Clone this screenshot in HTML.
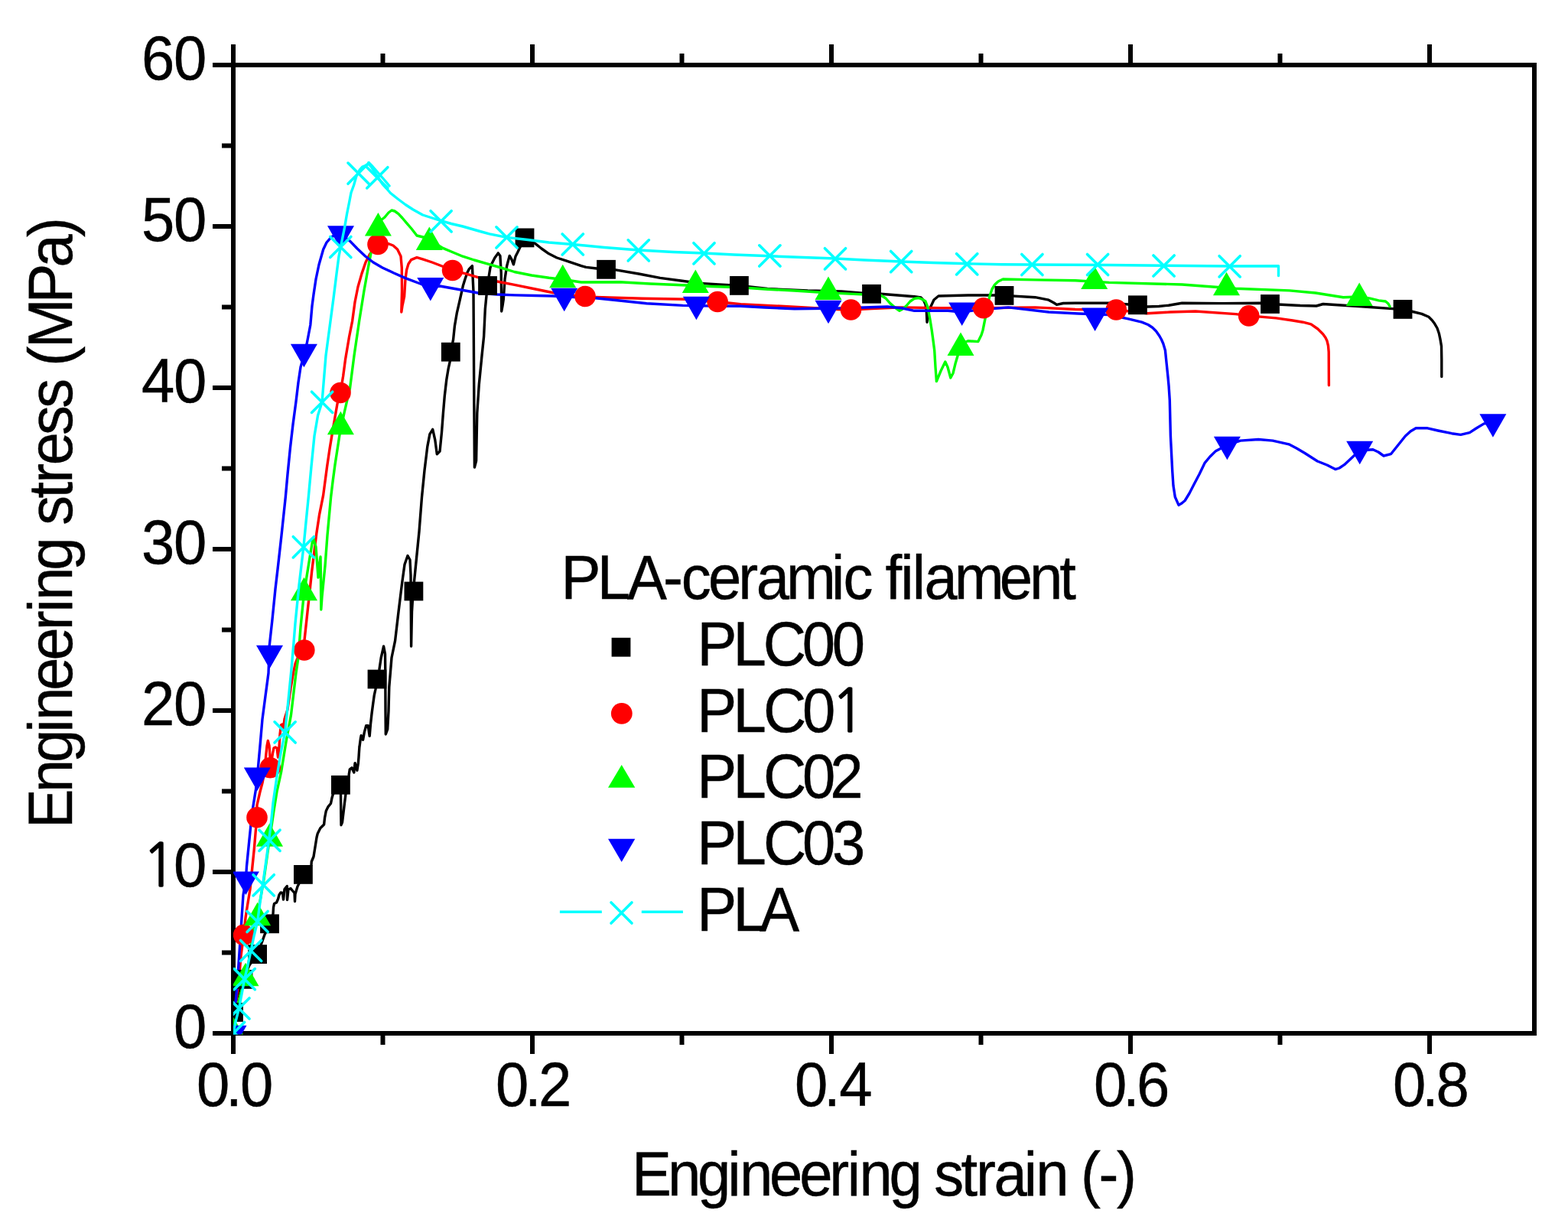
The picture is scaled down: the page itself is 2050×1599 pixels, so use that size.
<!DOCTYPE html><html><head><meta charset="utf-8"><title>Engineering stress-strain</title><style>
html,body{margin:0;padding:0;background:#fff;width:2050px;height:1599px;overflow:hidden}
svg{display:block}
text{font-family:"Liberation Sans",Arial,sans-serif;font-size:82px;fill:#000;stroke:#000;stroke-width:0.45px;font-kerning:none;font-variant-ligatures:none}
</style></head><body>
<svg width="2050" height="1599" viewBox="0 0 2050 1599">
<rect x="0" y="0" width="2050" height="1599" fill="#fff"/>
<g stroke="#000" stroke-width="6" fill="none" stroke-linecap="butt">
<rect x="305" y="85" width="1701" height="1266"/>
<path d="M278 85H302M278 296H302M278 507H302M278 718H302M278 929H302M278 1140H302M278 1351H302M290 190.5H302M290 401.5H302M290 612.5H302M290 823.5H302M290 1034.5H302M290 1245.5H302M305 1354V1378M305 82V58M696 1354V1378M696 82V58M1087 1354V1378M1087 82V58M1478 1354V1378M1478 82V58M1869 1354V1378M1869 82V58M500.5 1354V1366M500.5 82V70M891.5 1354V1366M891.5 82V70M1282.5 1354V1366M1282.5 82V70M1673.5 1354V1366M1673.5 82V70"/>
</g>
<defs><clipPath id="pc"><rect x="305" y="85" width="1701" height="1267.5"/></clipPath></defs>
<g clip-path="url(#pc)" fill="none" stroke-linejoin="round" stroke-linecap="round">
<polyline points="305,1351 306,1338 305.5,1323 309,1308 312,1297 318,1280 326,1262 336.6,1247.6 341,1236 346,1222 352.5,1207.8 357,1195 357.5,1186.5 358.5,1181.5 361.5,1180 363.5,1175.5 365,1170 367,1167 369.5,1167.5 370.5,1176 372,1162.5 375.3,1158.5 375.5,1176.5 377,1163 380,1161.5 382,1164 385,1167.5 385.5,1178.5 386,1169 389,1159 390.5,1156 396.4,1143.4 404,1137 407,1131 407.3,1126.5 410,1120 414,1095 415.3,1089.7 418.8,1082.8 423.6,1078 424.6,1069 426.3,1060.2 429.1,1054.6 432.5,1050.5 433.9,1043.6 435.3,1038.8 440,1030 445.4,1026.3 445.5,1040 446,1078.7 447.5,1075 450.5,1050 452,1038 454,1025 456,1014 457.3,1005.8 460,1003.8 462.8,1010 464.1,997.6 466.9,1007.2 468.3,998.3 469,990 470,975 469.8,977.9 471.4,965.7 472.2,961.6 474.6,967.3 476.3,957.6 478.7,948.6 481.1,948.6 483.2,962.4 484.4,947.8 486,933.2 487.6,921 489.3,908.8 490.9,901.5 493.2,888.4 495.8,876.1 498.2,860 501.6,845 503.5,855 503.8,880 504,930 504.3,960 506.7,953.5 508,930 508.8,898 510.5,878 512,860 516.6,837.6 521,800 525.6,762.6 529,738 533,726.5 536,732 537,752 537.6,845 538.5,800 540,775 542,755 548,695 551.5,650 552.5,640 555,615 558.8,583.9 561.9,567.6 565.7,561.4 568.8,575.1 571.3,593.9 575,590.1 577.5,565.1 579.4,540.1 581.3,517.6 583.8,496.3 586.3,481.3 588.2,472.8 589.3,460.2 592.6,443.8 594.4,426.3 597.4,408.8 601.4,391.3 605.3,373.8 608,365 611,356.3 613.2,351.9 617.4,347.6 619,381.3 619.7,505 620.4,611 622.6,602.6 623.8,540 626.3,502.5 630,465 632.6,440 634.3,404 637.3,373 641,349.8 642.5,345.8 646.9,337 651.3,330.9 653.9,334.4 655.2,356.3 655.7,407 657,400 658.3,391.3 660,365 662.7,347.5 666.2,334.4 668.8,338.8 671.4,345.8 674,335.3 676.7,330 686,310.4 699.6,318.3 708,325 717.7,331.8 728,337 740,340.8 760,347.6 766.3,349.4 780,351 792.5,352.3 805,352.9 835,358 863,363.4 890,367 915.6,370.4 940,372 966.4,373.4 1003.4,377.5 1056,380 1100,381 1139.5,384.3 1151.5,384.3 1195.4,387.8 1204,389 1207.7,393 1210,398 1211.2,405.4 1212,421.2 1213.5,410 1216.4,401.9 1221,392 1227,387 1265.6,386 1300.7,386 1313,386.4 1353.4,388.7 1371,392.2 1378,396 1381.5,398.3 1390,396.5 1406,396.2 1450,396.2 1487,398.8 1499.7,401 1515,400.5 1527.8,399.2 1545.4,396.2 1598,396.6 1648,396.2 1660.5,397.5 1700,399.5 1721,400 1729.8,397.5 1780,400.8 1820.5,403.6 1834,404.4 1847,407.5 1858.8,410.4 1867.8,414.3 1872.3,418.8 1875.7,423.3 1879,429 1881.3,435.7 1883,443.6 1884.5,452.6 1884.8,470 1884.8,492.5" stroke="#000" stroke-width="3.4"/>
<polyline points="305,1351 306.5,1330 309,1305 312,1285 315,1250 318.6,1222.4 321,1200 323.3,1185 327,1162.5 330,1132.5 332.3,1110 334.5,1083.8 336,1068.8 336,1052.6 340,1035 343,1023.8 346,1008 347.5,990 349,975 350.3,968.5 352,975 353,990 355,995 356.5,985 358,978 360,977 362,978 363.5,990 364.5,985 366,960 367.5,948 369,947 370.5,952 372,940 376,927.5 380,900 383.4,880 386,868 390,858 397.8,850 398,837 402,800 405.6,767 407.6,747.7 410.7,722.6 413.8,697.6 417.6,672.6 422.6,647.6 427.6,610 431,587 435,562.6 441,528 445,513.5 448.6,492 451.6,469.5 456.6,440 460.6,420 464,395 468,375 473,357.6 478,343 483.6,332 494,320 507.6,318.6 514,321 519.6,326 524,335 525.3,350 525.5,380 524.8,408 526,400 528.6,387.6 530,365 531.6,353 534,345 537.6,339.6 545,336.6 552.6,338.8 565,343 578,348 591.6,353.5 608,357.6 627.6,363.3 650,368 672.6,372.3 700,378 722,382.5 760,388 778.6,388.5 840,390.3 898,391.2 938.1,394.5 968.3,397.7 1038.6,401.2 1100,404.7 1112.5,405 1140,403.5 1177.8,401.9 1230.5,402.7 1285.8,402.7 1353.4,401.9 1406,404.5 1450,405.4 1459.3,405 1499.7,409.8 1530,408 1563,407 1615.6,410.6 1632.7,412.9 1668.3,415.9 1690,419 1703.4,421.2 1714,423.8 1722.8,430 1729.8,437 1733,441.5 1735,445.8 1736.5,452 1737.2,460 1737.4,503.7" stroke="#f00" stroke-width="3.4"/>
<polyline points="305,1351 307,1335 310,1318 315,1298 321,1279 325,1258 328,1240 331.5,1210 336.6,1195 340.5,1175 344.8,1151 347.5,1132 350,1114 352.5,1097 358,1060 362,1035 367.6,1009.4 374,970 380.5,934.6 387,880 390,860 393,820 396.5,785 400,760 404,735 408.6,707 410,705 413,715 416,755 418,735 419,728 419.5,760 419.8,797 421,780 425,740 428,700 432.6,650 435,630 438,607.6 444,568.6 450,540 457.6,507 463,465 469.6,420 476,380 481,352 485,330.6 490,310 494.4,293 498,288 503,284 508,278 512,275 516,276 521,279.6 526,285 531.6,291.6 538,299 545,308 561,312 570,319 579.6,324.6 590,329 605,335.2 620,340 638.8,345.3 655,350 672.6,355.5 695,360 717.7,363.3 740,366 760,369 810,368.7 850,371 898,373 930,374.5 968.3,375.7 1000,378 1038.6,380 1070,382 1100,383.6 1151.5,386 1158,390 1163.8,396.6 1170,402 1176,406.3 1180,404 1184.8,400 1190,394 1195.4,390.4 1201,389.5 1206,391.3 1210,394 1213,401.9 1216,418 1218.2,431.7 1220,445 1221.7,458 1223,480 1224.4,498.5 1230,485 1235.8,473 1239,480 1242.8,494 1246,488 1249,475.6 1254.2,458 1256,449.7 1265.6,445.8 1278.8,446.6 1283,438 1285,431.7 1288.5,414.2 1291,400 1293.7,387.8 1297,378 1300.7,372 1305,368 1311.3,365 1353.4,365.9 1406,366.7 1450,369.4 1545.4,372 1615.6,377.3 1685.9,379.9 1720,383 1756.1,388.7 1777,388 1791.3,390.1 1802.5,392.9 1811.5,394 1815,397 1817.1,400.8" stroke="#0f0" stroke-width="3.4"/>
<polyline points="305,1351 306,1335 307,1320 310,1290 312,1260 314,1230 316,1200 318,1170 321.4,1150 322.5,1132.5 325.5,1102.5 327.8,1080 330,1060 334.5,1032 337.4,1003.7 340,975 343,940.4 347,910 351,880 352.3,843.6 356,810 360,770 363.5,740 368,700 373.3,650 376,620 379.5,585 383,555 387,525 390,500 393,480 397,466 401,450 403.5,437 405.8,425 408,400 410,385 413,365 417,346 422.7,326 427,317 432.8,310.3 440,306 445,308 452,311 458,315.6 467,325 477.6,335 488,343 500,350 515,357 530,363.6 549.6,371 562.8,376 575,374 600,378.5 625,383 650,385 672.6,385.9 700,386.5 722,387 740,388 778.6,389.8 810,393 845.4,396.8 892.8,399.4 930,400 968.3,400.3 1000,402 1038.6,403.8 1100,403 1160,401 1180,403 1195.4,406.3 1239.3,406.3 1257.7,408 1280,405 1318.3,401.9 1371,408 1410,410 1450,411.5 1475,416.8 1492.7,421.2 1501,424.5 1506.7,428.2 1511.5,433 1515.5,438.7 1518.5,444 1520.8,449.3 1523.4,458 1525.2,475.6 1527,493 1528.1,505 1529.3,523.4 1530.4,570.2 1532.8,617 1534,635 1536.3,649.8 1541,660.4 1545,658 1549.2,654.5 1555,645 1560.9,633.5 1568,620 1575,605.4 1582,597 1589,590.1 1604.2,582 1621.7,576.1 1645.2,574.5 1663.9,576.1 1685,580.8 1695,586 1706,592.5 1722.4,603 1735,608 1745.8,613.6 1751,612 1757.5,607.7 1777.5,589 1795,587.8 1802,591 1809,596 1818.4,593.7 1827,583 1837.2,570.2 1844,564 1851.2,559.7 1865.3,559.7 1880,563 1898,566.7 1909.7,568.4 1921.4,565.6 1930,560 1940.2,553.9 1951.9,552.7" stroke="#00f" stroke-width="3.4"/>
</g>
<g clip-path="url(#pc)">
<rect x="293.1" y="1311.1" width="24.8" height="24.8" fill="#000"/>
<rect x="305.6" y="1268" width="24.8" height="24.8" fill="#000"/>
<rect x="324.2" y="1235.2" width="24.8" height="24.8" fill="#000"/>
<rect x="340.1" y="1195.4" width="24.8" height="24.8" fill="#000"/>
<rect x="384" y="1131" width="24.8" height="24.8" fill="#000"/>
<rect x="433" y="1013.9" width="24.8" height="24.8" fill="#000"/>
<rect x="480.6" y="875.6" width="24.8" height="24.8" fill="#000"/>
<rect x="528.5" y="760.6" width="24.8" height="24.8" fill="#000"/>
<rect x="576.9" y="447.8" width="24.8" height="24.8" fill="#000"/>
<rect x="625.1" y="361.1" width="24.8" height="24.8" fill="#000"/>
<rect x="673.6" y="298.5" width="24.8" height="24.8" fill="#000"/>
<rect x="780.1" y="339.9" width="24.8" height="24.8" fill="#000"/>
<rect x="954" y="361" width="24.8" height="24.8" fill="#000"/>
<rect x="1127.1" y="371.9" width="24.8" height="24.8" fill="#000"/>
<rect x="1300.6" y="374" width="24.8" height="24.8" fill="#000"/>
<rect x="1475" y="386.4" width="24.8" height="24.8" fill="#000"/>
<rect x="1648.1" y="385.1" width="24.8" height="24.8" fill="#000"/>
<rect x="1821.6" y="392" width="24.8" height="24.8" fill="#000"/>
<circle cx="318.6" cy="1222.4" r="13.8" fill="#f00"/>
<circle cx="336" cy="1068.8" r="13.8" fill="#f00"/>
<circle cx="353.2" cy="1003.7" r="13.8" fill="#f00"/>
<circle cx="397.8" cy="850" r="13.8" fill="#f00"/>
<circle cx="445" cy="513.5" r="13.8" fill="#f00"/>
<circle cx="494" cy="319.5" r="13.8" fill="#f00"/>
<circle cx="591.6" cy="353.5" r="13.8" fill="#f00"/>
<circle cx="765" cy="387.5" r="13.8" fill="#f00"/>
<circle cx="938.1" cy="394.5" r="13.8" fill="#f00"/>
<circle cx="1112.5" cy="405" r="13.8" fill="#f00"/>
<circle cx="1285.8" cy="402.7" r="13.8" fill="#f00"/>
<circle cx="1459.3" cy="405" r="13.8" fill="#f00"/>
<circle cx="1632.7" cy="412.9" r="13.8" fill="#f00"/>
<polygon points="305,1329.8 322.5,1360.2 287.5,1360.2" fill="#0f0"/>
<polygon points="321,1258.8 338.5,1289.2 303.5,1289.2" fill="#0f0"/>
<polygon points="336.6,1179.8 354.1,1210.2 319.1,1210.2" fill="#0f0"/>
<polygon points="352.5,1076.2 370,1106.8 335,1106.8" fill="#0f0"/>
<polygon points="397.5,754.8 415,785.2 380,785.2" fill="#0f0"/>
<polygon points="445.4,537.8 462.9,568.2 427.9,568.2" fill="#0f0"/>
<polygon points="494.4,278.1 511.9,308.6 476.9,308.6" fill="#0f0"/>
<polygon points="561.3,296.6 578.8,327.1 543.8,327.1" fill="#0f0"/>
<polygon points="735.7,345.8 753.2,376.2 718.2,376.2" fill="#0f0"/>
<polygon points="909.3,352.6 926.8,383.1 891.8,383.1" fill="#0f0"/>
<polygon points="1083,361.4 1100.5,391.9 1065.5,391.9" fill="#0f0"/>
<polygon points="1256,434.4 1273.5,464.9 1238.5,464.9" fill="#0f0"/>
<polygon points="1430.7,347.4 1448.2,377.9 1413.2,377.9" fill="#0f0"/>
<polygon points="1603.5,355.8 1621,386.2 1586,386.2" fill="#0f0"/>
<polygon points="1777.2,369.6 1794.7,400.1 1759.7,400.1" fill="#0f0"/>
<polygon points="287.5,1340.8 322.5,1340.8 305,1371.2" fill="#00f"/>
<polygon points="303.9,1139.5 338.9,1139.5 321.4,1170" fill="#00f"/>
<polygon points="318.8,1003.5 353.8,1003.5 336.3,1034" fill="#00f"/>
<polygon points="335,843.8 370,843.8 352.5,874.2" fill="#00f"/>
<polygon points="379.9,449.8 414.9,449.8 397.4,480.2" fill="#00f"/>
<polygon points="428,295.2 463,295.2 445.5,325.8" fill="#00f"/>
<polygon points="545.3,363.1 580.3,363.1 562.8,393.6" fill="#00f"/>
<polygon points="720.2,376.8 755.2,376.8 737.7,407.2" fill="#00f"/>
<polygon points="892.9,387.8 927.9,387.8 910.4,418.2" fill="#00f"/>
<polygon points="1065.5,392.8 1100.5,392.8 1083,423.2" fill="#00f"/>
<polygon points="1240.2,395.4 1275.2,395.4 1257.7,425.9" fill="#00f"/>
<polygon points="1414.1,402.4 1449.1,402.4 1431.6,432.9" fill="#00f"/>
<polygon points="1586.9,570.8 1621.9,570.8 1604.4,601.2" fill="#00f"/>
<polygon points="1760.2,576.8 1795.2,576.8 1777.7,607.2" fill="#00f"/>
<polygon points="1934.4,541.2 1969.4,541.2 1951.9,571.8" fill="#00f"/>
</g>
<g clip-path="url(#pc)" fill="none" stroke-linejoin="round" stroke-linecap="round">
<polyline points="305,1351 308,1336 312.4,1318.5 316,1300 319.7,1280.2 324,1262 328.1,1243 332,1224 336.6,1205 340,1180 344.3,1151.3 347,1132 349.5,1113.8 352,1095 354,1080 357,1050 361.8,1016.6 367,985 372.6,957.4 376,925 380.5,880 384,840 386,815 391,765 396.9,715 400,683 403.3,650 407,610 411,570 415.6,543 421,526 426,465 432,420 436,390 440,358 443,335 447,315 450.5,297.6 453.5,280 456.6,264.5 459,252 462.6,242 466,230 470,222.5 474,218 477.6,216.5 482,214.3 486,219 491,227 495,233 500,240.5 505,246 510.6,252.5 520,260 530,267.5 540,274 552.6,281 565,285 576.6,288.6 590,292.5 605,296 627.6,302.5 640,305.8 662.5,310.4 690,313.5 717.6,317 748.8,319.5 790,323.5 834.8,327 880,329.5 920.5,331 960,333 1006.4,334.8 1050,336.5 1092,338 1130,340 1178.2,342 1220,343.5 1265.6,344.8 1310,345.7 1349.4,346 1400,346.3 1450,346.5 1521.7,347.3 1607.7,348 1671.5,347.8 1671.5,360.6" stroke="#0ff" stroke-width="3.4"/>
<polyline points="482,212.5 487,217.5 494,225.5 501,233.5 509,243" stroke="#0ff" stroke-width="3.4"/>
<path d="M292.4 1336.4L319.6 1363.6M292.4 1363.6L319.6 1336.4" stroke="#0ff" stroke-width="3.6" stroke-linecap="round" fill="none"/>
<path d="M298.8 1304.9L326 1332.1M298.8 1332.1L326 1304.9" stroke="#0ff" stroke-width="3.6" stroke-linecap="round" fill="none"/>
<path d="M306.1 1266.6L333.3 1293.8M306.1 1293.8L333.3 1266.6" stroke="#0ff" stroke-width="3.6" stroke-linecap="round" fill="none"/>
<path d="M314.5 1229.4L341.7 1256.6M314.5 1256.6L341.7 1229.4" stroke="#0ff" stroke-width="3.6" stroke-linecap="round" fill="none"/>
<path d="M323 1191.4L350.2 1218.6M323 1218.6L350.2 1191.4" stroke="#0ff" stroke-width="3.6" stroke-linecap="round" fill="none"/>
<path d="M331.1 1143.7L358.3 1170.9M331.1 1170.9L358.3 1143.7" stroke="#0ff" stroke-width="3.6" stroke-linecap="round" fill="none"/>
<path d="M338.9 1085.2L366.1 1112.4M338.9 1112.4L366.1 1085.2" stroke="#0ff" stroke-width="3.6" stroke-linecap="round" fill="none"/>
<path d="M359 943.8L386.2 971M359 971L386.2 943.8" stroke="#0ff" stroke-width="3.6" stroke-linecap="round" fill="none"/>
<path d="M383.3 701.7L410.5 728.9M383.3 728.9L410.5 701.7" stroke="#0ff" stroke-width="3.6" stroke-linecap="round" fill="none"/>
<path d="M407.5 512.2L434.7 539.4M407.5 539.4L434.7 512.2" stroke="#0ff" stroke-width="3.6" stroke-linecap="round" fill="none"/>
<path d="M431.7 309.4L458.9 336.6M431.7 336.6L458.9 309.4" stroke="#0ff" stroke-width="3.6" stroke-linecap="round" fill="none"/>
<path d="M455 213.1L482.2 240.3M455 240.3L482.2 213.1" stroke="#0ff" stroke-width="3.6" stroke-linecap="round" fill="none"/>
<path d="M479.7 218.7L506.9 245.9M479.7 245.9L506.9 218.7" stroke="#0ff" stroke-width="3.6" stroke-linecap="round" fill="none"/>
<path d="M563 275.7L590.2 302.9M563 302.9L590.2 275.7" stroke="#0ff" stroke-width="3.6" stroke-linecap="round" fill="none"/>
<path d="M648.9 296.8L676.1 324M648.9 324L676.1 296.8" stroke="#0ff" stroke-width="3.6" stroke-linecap="round" fill="none"/>
<path d="M735.2 305.9L762.4 333.1M735.2 333.1L762.4 305.9" stroke="#0ff" stroke-width="3.6" stroke-linecap="round" fill="none"/>
<path d="M821.2 313.8L848.4 341M821.2 341L848.4 313.8" stroke="#0ff" stroke-width="3.6" stroke-linecap="round" fill="none"/>
<path d="M906.9 317.7L934.1 344.9M906.9 344.9L934.1 317.7" stroke="#0ff" stroke-width="3.6" stroke-linecap="round" fill="none"/>
<path d="M992.8 320.8L1020 348M992.8 348L1020 320.8" stroke="#0ff" stroke-width="3.6" stroke-linecap="round" fill="none"/>
<path d="M1078.4 324.7L1105.6 351.9M1078.4 351.9L1105.6 324.7" stroke="#0ff" stroke-width="3.6" stroke-linecap="round" fill="none"/>
<path d="M1164.6 328.5L1191.8 355.7M1164.6 355.7L1191.8 328.5" stroke="#0ff" stroke-width="3.6" stroke-linecap="round" fill="none"/>
<path d="M1250.6 331.7L1277.8 358.9M1250.6 358.9L1277.8 331.7" stroke="#0ff" stroke-width="3.6" stroke-linecap="round" fill="none"/>
<path d="M1335.8 332.4L1363 359.6M1335.8 359.6L1363 332.4" stroke="#0ff" stroke-width="3.6" stroke-linecap="round" fill="none"/>
<path d="M1421.5 332.4L1448.7 359.6M1421.5 359.6L1448.7 332.4" stroke="#0ff" stroke-width="3.6" stroke-linecap="round" fill="none"/>
<path d="M1508 333.9L1535.2 361.1M1508 361.1L1535.2 333.9" stroke="#0ff" stroke-width="3.6" stroke-linecap="round" fill="none"/>
<path d="M1594.1 334.7L1621.3 361.9M1594.1 361.9L1621.3 334.7" stroke="#0ff" stroke-width="3.6" stroke-linecap="round" fill="none"/>
</g>
<text transform="scale(0.95,1)" x="194.73 238.9" y="104.1">60</text>
<text transform="scale(0.95,1)" x="194.73 238.9" y="315.1">50</text>
<text transform="scale(0.95,1)" x="194.73 238.9" y="526.1">40</text>
<text transform="scale(0.95,1)" x="194.73 238.9" y="737.1">30</text>
<text transform="scale(0.95,1)" x="194.73 238.9" y="948.1">20</text>
<text transform="scale(0.95,1)" x="195.66 238.9" y="1159.1"><tspan style="font-family:NanumGothic,sans-serif;font-size:78px;stroke-width:1.3px">1</tspan>0</text>
<text transform="scale(0.95,1)" x="238.9" y="1370.1">0</text>
<text transform="scale(0.95,1)" x="270.53 310.46 330.43" y="1446">0.0</text>
<text transform="scale(0.95,1)" x="682.11 722.04 741.09" y="1446">0.2</text>
<text transform="scale(0.95,1)" x="1093.69 1133.62 1154.91" y="1446">0.4</text>
<text transform="scale(0.95,1)" x="1505.27 1545.2 1564.2" y="1446">0.6</text>
<text transform="scale(0.95,1)" x="1916.85 1956.78 1976.38" y="1446">0.8</text>
<text transform="scale(0.95,1)" x="869.48 918.91 960.12 1001.33 1017.8 1059.01 1100.22 1141.43 1166.11 1182.57 1223.78 1265 1285.58 1322.63 1343.22 1367.9 1409.11 1425.57 1466.78 1487.37 1512.05 1536.73" y="1563">Engineering strain (-)</text>
<text transform="rotate(-90) scale(0.95,1)" x="-1140.31 -1090.73 -1049.39 -1008.05 -991.53 -950.19 -908.85 -867.51 -842.76 -826.25 -784.91 -743.57 -722.92 -685.75 -665.1 -640.35 -599.01 -561.84 -524.67 -504.02 -479.27 -417.35 -367.77 -326.43" y="94">Engineering stress (MPa)</text>
<text transform="scale(0.95,1)" x="772.22 821.81 863.17 912.76 937.52 974.69 1016.05 1040.81 1082.16 1144.09 1160.61 1197.79 1218.45 1239.11 1255.62 1272.14 1313.49 1375.43 1416.78 1458.13" y="782.6">PLA-ceramic filament</text>
<text transform="scale(0.95,1)" x="959.59 1009.06 1050.36 1104.06 1145.01" y="869.8">PLC00</text>
<text transform="scale(0.95,1)" x="959.17 1008.96 1050.57 1104.17 1143.66" y="956.6">PLC0<tspan style="font-family:NanumGothic,sans-serif;font-size:78px;stroke-width:1.3px">1</tspan></text>
<text transform="scale(0.95,1)" x="959.17 1008.96 1050.57 1104.17 1142.3" y="1043.4">PLC02</text>
<text transform="scale(0.95,1)" x="959.17 1008.96 1050.57 1104.17 1145.19" y="1130.2">PLC03</text>
<text transform="scale(0.95,1)" x="959.17 1008.96 1045.63" y="1217">PLA</text>
<rect x="799.6" y="833.8" width="24.8" height="24.8" fill="#000"/>
<circle cx="812.8" cy="932.8" r="13.9" fill="#f00"/>
<polygon points="812.7,1000 830.3,1029.8 795,1029.8" fill="#0f0"/>
<polygon points="795,1096.7 830.3,1096.7 812.7,1127" fill="#00f"/>
<path d="M731.9 1192.3H786.8M838.8 1192.3H892.9" stroke="#0ff" stroke-width="3.4" fill="none"/>
<path d="M799 1180L826 1207M799 1207L826 1180" stroke="#0ff" stroke-width="3.6" stroke-linecap="round" fill="none"/>
</svg></body></html>
